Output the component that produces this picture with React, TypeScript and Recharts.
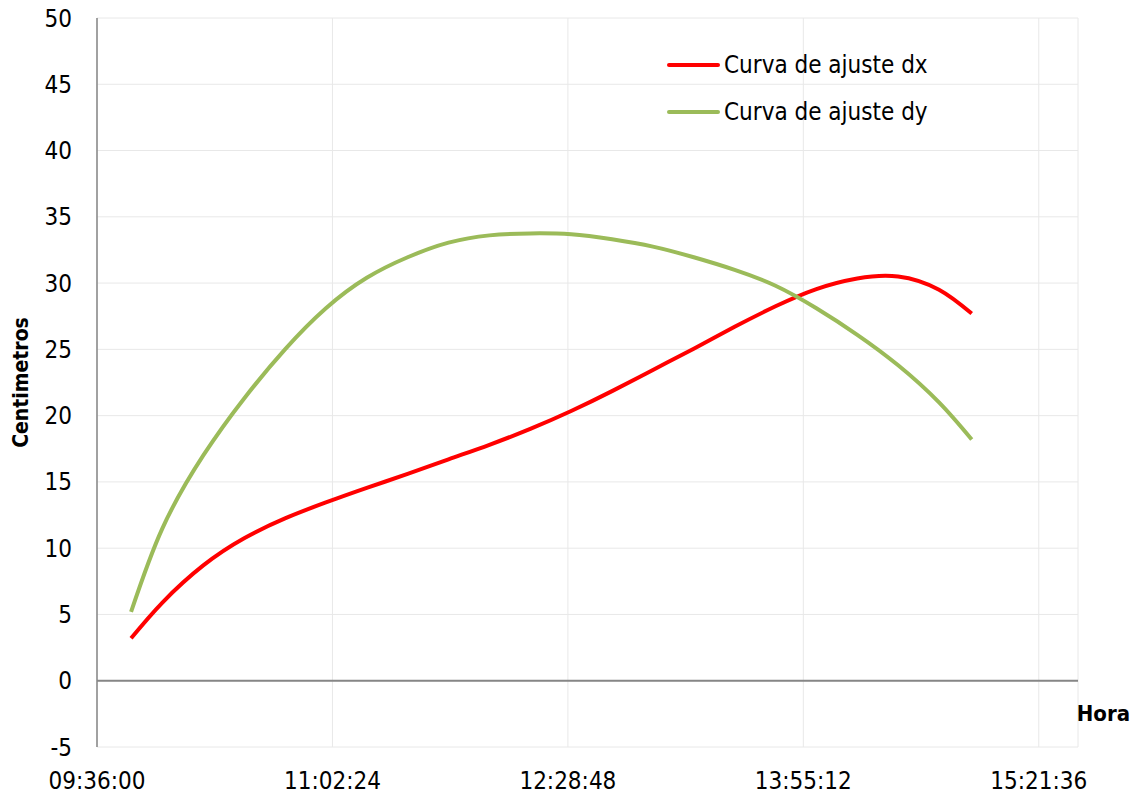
import { CartesianGrid, Label, Legend, Line, LineChart, ReferenceLine, XAxis, YAxis } from "recharts";

const FONT = "'Liberation Sans Narrow', 'Arial Narrow', 'DejaVu Sans Condensed', sans-serif";

// sample times of the fitted curves (hh:mm[:ss])
const times = [
  "09:48:30", "10:00", "10:15", "10:30", "10:45", "11:00", "11:15", "11:30", "11:45", "12:00", "12:15",
  "12:30", "12:45", "13:00", "13:15", "13:30", "13:45", "14:00", "14:15", "14:30", "14:45", "14:57",
];
const dxValues = [
  3.2, 5.9, 8.7, 10.75, 12.25, 13.45, 14.55, 15.6, 16.7, 17.8, 19.0,
  20.35, 21.85, 23.45, 25.05, 26.7, 28.25, 29.55, 30.35, 30.5, 29.5, 27.7,
];
const dyValues = [
  5.2, 11.5, 17.0, 21.3, 25.0, 28.1, 30.4, 31.95, 33.05, 33.6, 33.75,
  33.68, 33.3, 32.75, 31.95, 31.0, 29.8, 28.1, 26.1, 23.8, 21.0, 18.2,
];
const xTickLabels = ["09:36:00", "11:02:24", "12:28:48", "13:55:12", "15:21:36"];
const yTicks = [-5, 0, 5, 10, 15, 20, 25, 30, 35, 40, 45, 50];

function toDay(s: string) {
  const [h, m, sec = 0] = s.split(":").map(Number);
  return (h * 3600 + m * 60 + sec) / 86400;
}

function fmtTime(d: number) {
  const total = Math.round(d * 86400);
  const pad = (n: number) => String(n).padStart(2, "0");
  return `${pad(Math.floor(total / 3600))}:${pad(Math.floor((total % 3600) / 60))}:${pad(total % 60)}`;
}

const data = times.map((t, i) => ({ t: toDay(t), dx: dxValues[i], dy: dyValues[i] }));
const xTicks = xTickLabels.map(toDay);

function LegendBox(props: any) {
  const payload = props.payload || [];
  return (
    <div style={{ fontFamily: FONT, fontSize: 24, color: "#000" }}>
      {payload.map((p: any) => (
        <div key={p.value} style={{ display: "flex", alignItems: "center", height: 47 }}>
          <span style={{ display: "inline-block", width: 53, height: 4, borderRadius: 2, background: p.color }} />
          <span style={{ marginLeft: 4, whiteSpace: "nowrap" }}>{p.value}</span>
        </div>
      ))}
    </div>
  );
}

export default function App() {
  const tick = { fontSize: 24, fill: "#000", fontFamily: FONT };
  return (
    <div style={{ position: "absolute", left: 0, top: 0, background: "#fff" }}>
      <LineChart width={1135} height={795} data={data} margin={{ top: 18, right: 57, left: 0, bottom: 0 }}>
        <CartesianGrid stroke="#e8e8e8" />
        <XAxis
          type="number"
          dataKey="t"
          domain={[0.4, 0.65]}
          ticks={xTicks}
          tickFormatter={fmtTime}
          height={48}
          axisLine={false}
          tickLine={false}
          tickMargin={19}
          tick={tick}
          interval={0}
        >
          <Label
            content={(p: any) => (
              <text
                x={p.viewBox.x + p.viewBox.width + 52}
                y={p.viewBox.y - 34}
                textAnchor="end"
                dominantBaseline="central"
                fontFamily={FONT}
                fontWeight="bold"
                fontSize={22}
                fill="#000"
              >
                Hora
              </text>
            )}
          />
        </XAxis>
        <YAxis
          type="number"
          domain={[-5, 50]}
          ticks={yTicks}
          width={97}
          interval={0}
          tickLine={false}
          tickMargin={19}
          tick={tick}
          axisLine={{ stroke: "#868686", strokeWidth: 1.5 }}
        >
          <Label
            content={(p: any) => {
              const cx = p.viewBox.x + 21;
              const cy = p.viewBox.y + p.viewBox.height / 2;
              return (
                <text
                  x={cx}
                  y={cy}
                  transform={`rotate(-90, ${cx}, ${cy})`}
                  textAnchor="middle"
                  dominantBaseline="central"
                  fontFamily={FONT}
                  fontWeight="bold"
                  fontSize={21}
                  fill="#000"
                >
                  Centimetros
                </text>
              );
            }}
          />
        </YAxis>
        <ReferenceLine y={0} stroke="#868686" strokeWidth={2} />
        <Legend
          layout="vertical"
          align="center"
          verticalAlign="middle"
          wrapperStyle={{ left: 667, top: 41, width: 320 }}
          content={<LegendBox />}
        />
        <Line
          type="natural"
          dataKey="dx"
          name="Curva de ajuste dx"
          stroke="#ff0000"
          strokeWidth={4}
          dot={false}
          isAnimationActive={false}
        />
        <Line
          type="natural"
          dataKey="dy"
          name="Curva de ajuste dy"
          stroke="#9bbb59"
          strokeWidth={4}
          dot={false}
          isAnimationActive={false}
        />
      </LineChart>
    </div>
  );
}
